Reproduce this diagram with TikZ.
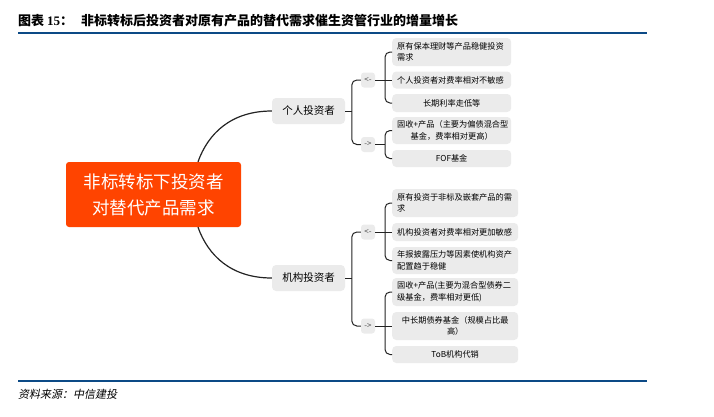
\documentclass[tikz,border=0pt]{standalone}
\usepackage{fontspec}
\setmainfont{Noto Sans CJK SC}
\newfontfamily\numfont{Liberation Serif}
\newfontfamily\slantfont[FakeSlant=0.2]{Noto Sans CJK SC}
\definecolor{rootred}{RGB}{255,68,0}
\definecolor{boxgray}{RGB}{235,235,235}
\definecolor{rulecol}{RGB}{12,74,134}
\definecolor{linegray}{RGB}{35,35,35}
\tikzset{
	rootbox/.style={fill=rootred, rounded corners=3pt, text=white, minimum width=175pt, minimum height=65pt, align=center, font=\fontsize{17.5}{26}\selectfont},
	midbox/.style={fill=boxgray, rounded corners=4pt, minimum width=73pt, minimum height=26pt, inner sep=0pt, font=\fontsize{10.5}{13}\selectfont},
	arrbox/.style={fill=boxgray, rounded corners=3pt, minimum width=14pt, minimum height=15pt, inner sep=0pt, text=black!70, font=\fontsize{8}{9}\selectfont},
	leafbox/.style={fill=boxgray, rounded corners=4pt, anchor=west, inner xsep=5pt, inner ysep=1pt, font=\fontsize{8.2}{11.5}\selectfont},
	leafa/.style={leafbox, text width=109pt},
	leafb/.style={leafbox, text width=116pt},
	link/.style={draw=linegray, line width=1pt},
	bracket/.style={link, rounded corners=5pt},
	rule/.style={draw=rulecol, line width=2pt},
}
\begin{document}
\begin{tikzpicture}[x=1pt, y=-1pt]
	\useasboundingbox (0,0) rectangle (714,416);
	% title and rules
	\node[anchor=west, inner sep=0pt, font=\fontsize{13}{15}\selectfont\bfseries] (title) at (18,21) {图表 {\numfont 15}：\hspace{8pt}非标转标后投资者对原有产品的替代需求催生资管行业的增量增长};
	\draw[rule] (18,33) -- (647,33);
	\draw[rule, line width=1.4pt] (18,381) -- (647,381);
	\node[anchor=west, inner sep=0pt, font=\fontsize{11}{13}\selectfont] (src) at (18,394) {\slantfont 资料来源：中信建投};

	% root and investors
	\node[rootbox] (root) at (153.5,194.5) {非标转标下投资者\\对替代产品需求};
	\node[midbox] (ind) at (308.5,111) {个人投资者};
	\node[midbox] (inst) at (308.5,278) {机构投资者};
	\draw[link, line width=1.2pt] ([xshift=44.5pt]root.north) .. controls +(10,-28) and +(-41,0) .. (ind.west);
	\draw[link, line width=1.2pt] ([xshift=44.5pt]root.south) .. controls +(10,28) and +(-41,0) .. (inst.west);

	% individual investors
	\node[arrbox] (indin) at (368,80) {<-};
	\node[arrbox] (indout) at (368,144.5) {->};
	\draw[bracket] (indin.west) -- ++(-9,0) |- (indout.west);
	\draw[link] (ind.east) -- ++(7,0);
	\node[leafa, minimum height=28pt, align=left] (ia) at (392,52) {原有保本理财等产品稳健投资\\需求};
	\node[leafa, minimum height=17pt, align=left] (ib) at (392,80) {个人投资者对费率相对不敏感};
	\node[leafa, minimum height=18pt, align=center] (ic) at (392,103) {长期利率走低等};
	\node[leafa, minimum height=27pt, align=center] (id) at (392,130.5) {固收+产品（主要为偏债混合型\\基金，费率相对更高）};
	\node[leafa, minimum height=17pt, align=center] (ie) at (392,158.5) {FOF基金};
	\draw[bracket] (ia.west) -- ++(-7,0) |- (ic.west);
	\draw[link] (indin.east) -- (ib.west);
	\draw[bracket] (id.west) -- ++(-7,0) |- (ie.west);
	\draw[link] (indout.east) -- ++(10,0);

	% institutional investors
	\node[arrbox] (instin) at (368,232) {<-};
	\node[arrbox] (instout) at (368,326) {->};
	\draw[bracket] (instin.west) -- ++(-9,0) |- (instout.west);
	\draw[link] (inst.east) -- ++(7,0);
	\node[leafb, minimum height=28pt, align=left] (ja) at (392,203) {原有投资于非标及嵌套产品的需\\求};
	\node[leafb, minimum height=18pt, align=left] (jb) at (392,232) {机构投资者对费率相对更加敏感};
	\node[leafb, minimum height=27pt, align=left] (jc) at (392,260.5) {年报披露压力等因素使机构资产\\配置趋于稳健};
	\node[leafb, minimum height=28pt, align=left] (jd) at (392,292) {固收+产品(主要为混合型债券二\\级基金，费率相对更低)};
	\node[leafb, minimum height=28pt, align=center] (je) at (392,326) {中长期债券基金（规模占比最\\高）};
	\node[leafb, minimum height=17pt, align=center] (jf) at (392,354.5) {ToB机构代销};
	\draw[bracket] (ja.west) -- ++(-7,0) |- (jc.west);
	\draw[link] (instin.east) -- (jb.west);
	\draw[bracket] (jd.west) -- ++(-7,0) |- (jf.west);
	\draw[link] (instout.east) -- (je.west);
\end{tikzpicture}
\end{document}
